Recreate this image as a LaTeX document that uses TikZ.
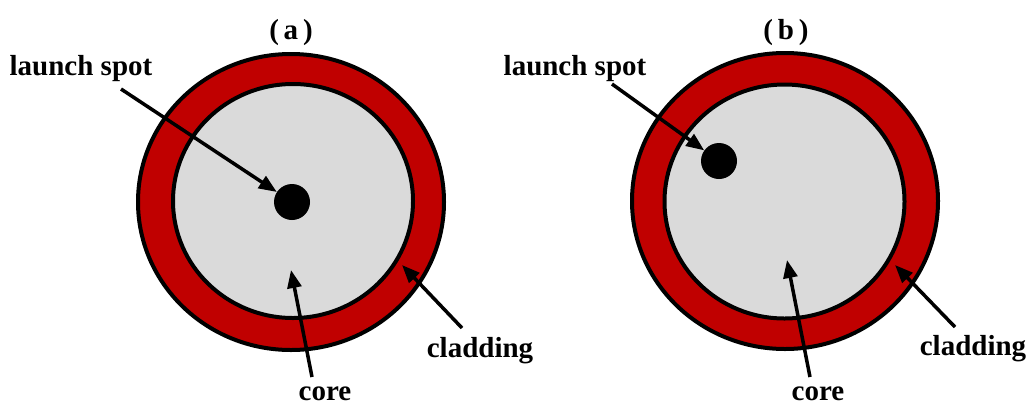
\documentclass[tikz,border=0pt]{standalone}
\usepackage{fontspec}
\setmainfont{Liberation Serif}
\usepackage{xcolor}
\usetikzlibrary{arrows.meta,shapes.geometric}
\definecolor{cladred}{RGB}{192,0,0}
\definecolor{coregray}{RGB}{218,218,218}

\begin{document}
\begin{tikzpicture}[
x=1pt,y=-1pt,
cladding/.style={ellipse,draw,line width=4pt,fill=cladred,inner sep=0pt,minimum width=306pt,minimum height=296pt},
corearea/.style={ellipse,draw,line width=4pt,fill=coregray,inner sep=0pt,minimum width=240pt,minimum height=234pt},
spotdot/.style={circle,fill=black,inner sep=0pt,minimum size=36pt},
lbl/.style={font=\fontsize{29}{34}\selectfont\bfseries,inner sep=0pt,anchor=base},
arrow/.style={-{Triangle[length=18pt,width=14pt]},line width=3.5pt},
]
\useasboundingbox (0,0) rectangle (1028,408);
% (a) centred launch
\node[cladding] (cladA) at (291,202) {};
\node[corearea] (coreA) at (293,201) {};
\node[spotdot] (spotA) at (292,202) {};
\node[lbl] (titleA) at (291,39) {(\,a\,)};
\node[lbl] (lsA) at (81,75) {launch spot};
\node[lbl] (clA) at (480,357) {cladding};
\node[lbl] (coA) at (325,400) {core};
\coordinate (lsAtail) at (121,89);
\coordinate (clAtail) at (462,328);
\coordinate (clAtip) at (402,265);
\coordinate (coAtail) at (312,377);
\coordinate (coAtip) at (291,270);
\draw[arrow] (lsAtail) -- (spotA);
\draw[arrow] (clAtail) -- (clAtip);
\draw[arrow] (coAtail) -- (coAtip);
% (b) offset launch
\node[cladding] (cladB) at (785,201) {};
\node[corearea] (coreB) at (784.5,201.5) {};
\node[spotdot] (spotB) at (719,161) {};
\node[lbl] (titleB) at (786,39) {(\,b\,)};
\node[lbl] (lsB) at (575,75) {launch spot};
\node[lbl] (clB) at (973,355) {cladding};
\node[lbl] (coB) at (818,400) {core};
\coordinate (lsBtail) at (612,84);
\coordinate (clBtail) at (955,327);
\coordinate (clBtip) at (895,265);
\coordinate (coBtail) at (810,377);
\coordinate (coBtip) at (787,260);
\draw[arrow] (lsBtail) -- (spotB);
\draw[arrow] (clBtail) -- (clBtip);
\draw[arrow] (coBtail) -- (coBtip);
\end{tikzpicture}
\end{document}
